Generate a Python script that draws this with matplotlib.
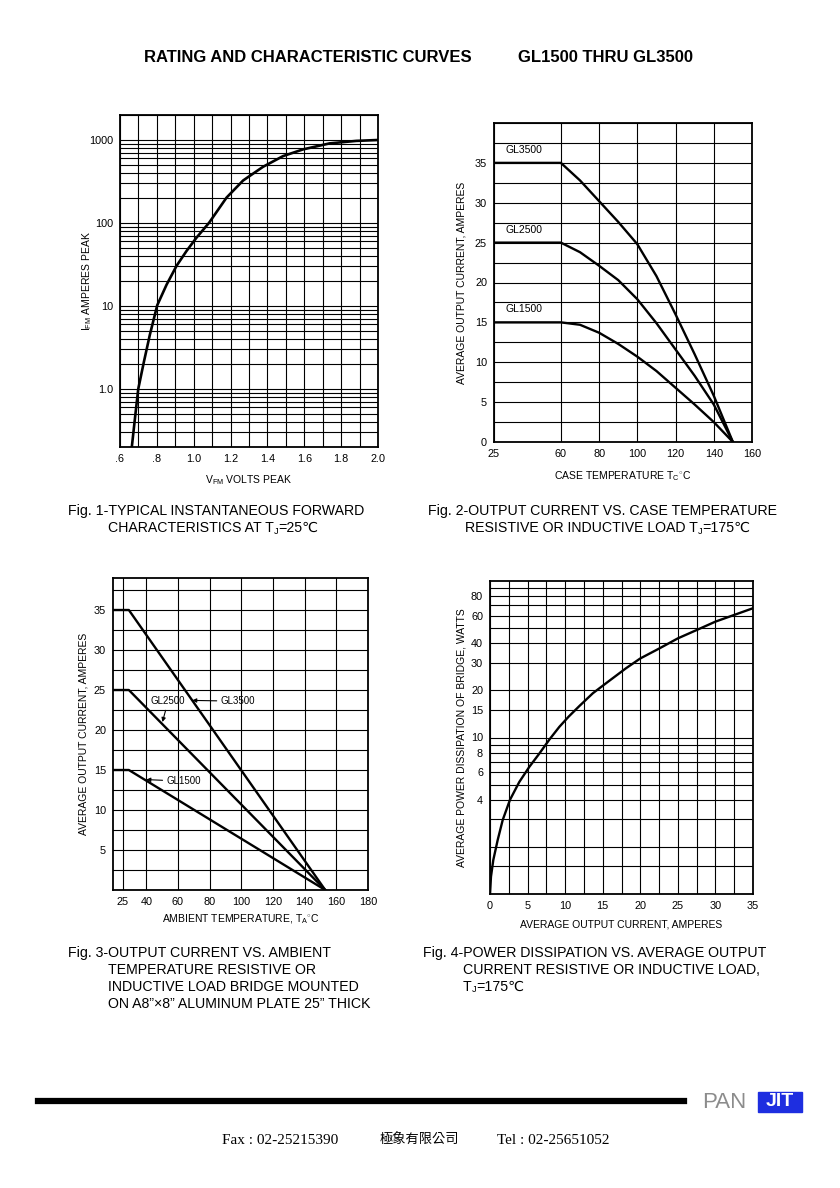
import numpy as np
import matplotlib
matplotlib.use("Agg")
import matplotlib.pyplot as plt
from matplotlib.ticker import FixedLocator, MultipleLocator, NullFormatter, LogLocator
from matplotlib.lines import Line2D
from matplotlib.patches import Rectangle

plt.rcParams["font.family"] = ["Liberation Sans", "DejaVu Sans", "Noto Sans CJK TC"]
plt.rcParams["mathtext.fontset"] = "custom"
plt.rcParams["mathtext.rm"] = "Liberation Sans"
plt.rcParams["mathtext.it"] = "Liberation Sans"

# Fig. 1 - forward characteristics
fig1_vf = [0.663, 0.681, 0.699, 0.730, 0.762, 0.802, 0.853, 0.907, 0.961, 1.015,
           1.084, 1.178, 1.268, 1.376, 1.485, 1.593, 1.737, 1.882, 2.0]
fig1_if = [0.19, 0.44, 1.0, 2.14, 4.5, 10.2, 18.1, 30.5, 46, 66.5,
           101, 202, 325, 475, 640, 770, 910, 975, 1000]

# Fig. 2 - output current vs case temperature
fig2_tc = [25, 60, 70, 80, 90, 100, 110, 120, 130, 140, 150]
fig2_gl3500 = [35, 35, 32.8, 30.2, 27.6, 24.8, 20.8, 16.0, 11.0, 5.8, 0]
fig2_gl2500 = [25, 25, 23.8, 22.1, 20.3, 17.9, 14.9, 11.6, 8.3, 4.7, 0]
fig2_gl1500 = [15, 15, 14.7, 13.7, 12.3, 10.7, 8.9, 6.8, 4.7, 2.5, 0]

# Fig. 3 - output current vs ambient temperature
fig3_ta = [19, 29, 153]
fig3_gl3500 = [35, 35, 0]
fig3_gl2500 = [25, 25, 0]
fig3_gl1500 = [15, 15, 0]

# Fig. 4 - power dissipation vs average output current
fig4_io = [0, 0.13, 0.44, 1.02, 1.69, 2.66, 3.9, 5.24, 6.57, 7.9, 9.23, 10.47,
           11.9, 13.7, 15.7, 18.1, 20, 22.5, 25, 27.5, 30, 32.5, 35]
fig4_pd = [1.0, 1.29, 1.65, 2.21, 2.97, 4.0, 5.2, 6.5, 7.9, 9.7, 11.7, 13.6,
           15.9, 19.2, 22.7, 27.7, 32, 37, 43, 48.6, 55, 60.7, 67]

W, H = 840, 1188


def box(l, t, r, b):
    return [l / W, 1 - b / H, (r - l) / W, (b - t) / H]


def ftext(x, y, s, **kw):
    return fig.text(x / W, 1 - y / H, s, **kw)


def seq_text(x, y, parts, size=10.2):
    # caption line with a small subscript J
    r = fig.canvas.get_renderer()
    cx = x
    for s, sub in parts:
        t = ftext(cx, y + (3 if sub else 0), s, fontsize=size * 0.65 if sub else size, va="center")
        cx += t.get_window_extent(r).width


def style(ax):
    for sp in ax.spines.values():
        sp.set_linewidth(1.3)
    ax.tick_params(which="both", length=0, labelsize=7.8, pad=5)
    ax.grid(which="both", color="black", lw=0.8)
    ax.set_axisbelow(True)


fig = plt.figure(figsize=(W / 100, H / 100), dpi=100)

# ---- Fig 1
ax1 = fig.add_axes(box(120, 115, 378, 447))
ax1.plot(fig1_vf, fig1_if, color="black", lw=1.9)
ax1.set_yscale("log")
ax1.set_xlim(0.6, 2.0)
ax1.set_ylim(0.2, 2000)
ax1.set_xticks([0.6, 0.8, 1.0, 1.2, 1.4, 1.6, 1.8, 2.0])
ax1.set_xticklabels([".6", ".8", "1.0", "1.2", "1.4", "1.6", "1.8", "2.0"])
ax1.xaxis.set_minor_locator(MultipleLocator(0.1))
ax1.set_yticks([1, 10, 100, 1000])
ax1.set_yticklabels(["1.0", "10", "100", "1000"])
ax1.yaxis.set_minor_locator(LogLocator(base=10, subs=np.arange(2, 10)))
ax1.yaxis.set_minor_formatter(NullFormatter())
style(ax1)
ax1.set_xlabel(r"V$_\mathregular{FM}$ VOLTS PEAK", fontsize=7.5)
ax1.set_ylabel(r"I$_\mathregular{FM}$ AMPERES PEAK", fontsize=7.5)
ax1.xaxis.set_label_coords(0.5, -0.08)
ax1.yaxis.set_label_coords(-0.1, 0.5)

# ---- Fig 2
ax2 = fig.add_axes(box(494, 123, 752, 442))
ax2.plot(fig2_tc, fig2_gl3500, color="black", lw=1.7)
ax2.plot(fig2_tc, fig2_gl2500, color="black", lw=1.7)
ax2.plot(fig2_tc, fig2_gl1500, color="black", lw=1.7)
ax2.set_xlim(25, 160)
ax2.set_ylim(0, 40)
ax2.set_xticks([25, 60, 80, 100, 120, 140, 160])
ax2.set_yticks(np.arange(0, 36, 5))
ax2.yaxis.set_minor_locator(MultipleLocator(2.5))
style(ax2)
ax2.text(31.0, 36.0, "GL3500", fontsize=7.5, va="bottom")
ax2.text(31.0, 26.0, "GL2500", fontsize=7.5, va="bottom")
ax2.text(31.0, 16.0, "GL1500", fontsize=7.5, va="bottom")
ax2.set_xlabel(r"CASE TEMPERATURE T$_\mathregular{C}$$^{\circ}$C", fontsize=7.5)
ax2.set_ylabel("AVERAGE OUTPUT CURRENT, AMPERES", fontsize=7.5)
ax2.xaxis.set_label_coords(0.5, -0.085)
ax2.yaxis.set_label_coords(-0.108, 0.5)

# ---- Fig 3
ax3 = fig.add_axes(box(113, 578, 368, 890))
ax3.plot(fig3_ta, fig3_gl3500, color="black", lw=1.7)
ax3.plot(fig3_ta, fig3_gl2500, color="black", lw=1.7)
ax3.plot(fig3_ta, fig3_gl1500, color="black", lw=1.7)
ax3.set_xlim(19, 180)
ax3.set_ylim(0, 39)
ax3.set_xticks([25, 40, 60, 80, 100, 120, 140, 160, 180])
ax3.set_yticks(np.arange(5, 36, 5))
ax3.yaxis.set_minor_locator(MultipleLocator(2.5))
style(ax3)
arrow = dict(arrowstyle="-|>", lw=0.8, color="black", mutation_scale=6, shrinkA=1, shrinkB=0)
ax3.annotate("GL2500", xy=(50.2, 21.0), xytext=(53.8, 23.6), fontsize=7,
             ha="center", va="center", arrowprops=arrow)
ax3.annotate("GL3500", xy=(69, 23.7), xytext=(98, 23.6), fontsize=7,
             ha="center", va="center", arrowprops=arrow)
ax3.annotate("GL1500", xy=(40, 13.8), xytext=(63.8, 13.6), fontsize=7,
             ha="center", va="center", arrowprops=arrow)
ax3.set_xlabel(r"AMBIENT TEMPERATURE, T$_\mathregular{A}$$^{\circ}$C", fontsize=7.5)
ax3.set_ylabel("AVERAGE OUTPUT CURRENT, AMPERES", fontsize=7.5)
ax3.xaxis.set_label_coords(0.5, -0.072)
ax3.yaxis.set_label_coords(-0.098, 0.5)

# ---- Fig 4
ax4 = fig.add_axes(box(490, 581, 753, 894))
ax4.plot(fig4_io, fig4_pd, color="black", lw=1.7)
ax4.set_yscale("log")
ax4.set_xlim(0, 35)
ax4.set_ylim(1, 100)
ax4.set_xticks(np.arange(0, 36, 5))
ax4.xaxis.set_minor_locator(MultipleLocator(2.5))
ax4.yaxis.set_major_locator(FixedLocator([4, 6, 8, 10, 15, 20, 30, 40, 60, 80]))
ax4.set_yticklabels(["4", "6", "8", "10", "15", "20", "30", "40", "60", "80"])
ax4.yaxis.set_minor_locator(FixedLocator([1.5, 2, 3, 5, 7, 9, 50, 70, 90]))
ax4.yaxis.set_minor_formatter(NullFormatter())
style(ax4)
ax4.set_xlabel("AVERAGE OUTPUT CURRENT, AMPERES", fontsize=7.5)
ax4.set_ylabel("AVERAGE POWER DISSIPATION OF BRIDGE, WATTS", fontsize=7.5)
ax4.xaxis.set_label_coords(0.5, -0.08)
ax4.yaxis.set_label_coords(-0.09, 0.5)

# ---- page text
ftext(144, 58, "RATING AND CHARACTERISTIC CURVES", fontsize=12, fontweight="bold", va="center")
ftext(518, 58, "GL1500 THRU GL3500", fontsize=12, fontweight="bold", va="center")

cap = dict(fontsize=10.2, va="center")
ftext(68, 511, "Fig. 1-TYPICAL INSTANTANEOUS FORWARD", **cap)
seq_text(108, 528, [("CHARACTERISTICS AT T", False), ("J", True), ("=25℃", False)])
ftext(428, 511, "Fig. 2-OUTPUT CURRENT VS. CASE TEMPERATURE", **cap)
seq_text(465, 528, [("RESISTIVE OR INDUCTIVE LOAD T", False), ("J", True), ("=175℃", False)])
ftext(68, 953, "Fig. 3-OUTPUT CURRENT VS. AMBIENT", **cap)
ftext(108, 970, "TEMPERATURE RESISTIVE OR", **cap)
ftext(108, 987, "INDUCTIVE LOAD BRIDGE MOUNTED", **cap)
ftext(108, 1004, "ON A8”×8” ALUMINUM PLATE 25” THICK", **cap)
ftext(423, 953, "Fig. 4-POWER DISSIPATION VS. AVERAGE OUTPUT", **cap)
ftext(463, 970, "CURRENT RESISTIVE OR INDUCTIVE LOAD,", **cap)
seq_text(463, 987, [("T", False), ("J", True), ("=175℃", False)])

# footer
fig.add_artist(Line2D([38 / W, 684 / W], [1 - 1101 / H, 1 - 1101 / H], color="black", lw=4.5))
ftext(702, 1103, "PAN", fontsize=16, color="#8c8c8c", va="center")
fig.add_artist(Rectangle((758 / W, 1 - 1112 / H), 44 / W, 20 / H, color="#1e2ee0",
                         transform=fig.transFigure))
ftext(780, 1102, "JIT", fontsize=14, color="white", fontweight="bold", va="center", ha="center")
foot = dict(fontsize=11, va="center", family=["Liberation Serif", "Noto Sans CJK TC"])
ftext(222, 1140, "Fax : 02-25215390", **foot)
ftext(380, 1140, "極象有限公司", fontsize=9.5, va="center", family=["Noto Sans CJK TC"])
ftext(497, 1140, "Tel : 02-25651052", **foot)

fig.savefig("out.png", dpi=100, facecolor="white")
